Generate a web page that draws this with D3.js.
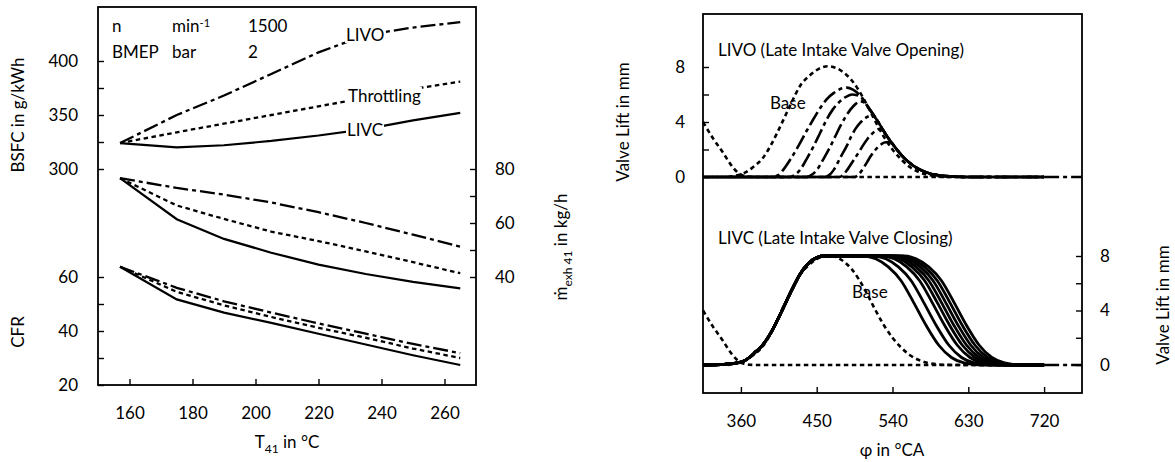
<!DOCTYPE html>
<html>
<head>
<meta charset="utf-8">
<script src="https://cdn.jsdelivr.net/npm/d3@7"></script>
<style>
body { margin: 0; background: #fff; }
text { font-family: Lato, "Open Sans", sans-serif; fill: #000; }
</style>
</head>
<body>
<svg id="chart" width="1175" height="462"></svg>
<script>
// ---- left panel data ----
var tempC = [157, 175, 190, 205, 220, 235, 250, 265];
var bsfcLIVO = [324, 350, 368, 388, 408, 424, 431, 436];
var bsfcThrottling = [324, 334, 342, 350, 358, 366, 374, 381];
var bsfcLIVC = [324, 320, 322, 326, 331, 337, 345, 352];
var mdotLIVO = [76.6, 73, 70.5, 67.6, 64, 60, 55.7, 51.2];
var mdotThrottling = [76.6, 66.5, 61.5, 56.8, 53.3, 49.5, 45.5, 41.4];
var mdotLIVC = [76.6, 61.4, 54.1, 49, 44.6, 41.1, 38.2, 35.8];
var cfrLIVO = [63.8, 56, 51, 46.8, 42.8, 39, 35.2, 31.8];
var cfrThrottling = [63.8, 54.5, 49.5, 45.2, 41.2, 37.5, 33.5, 30];
var cfrLIVC = [63.8, 51.7, 46.8, 43, 39, 35, 31, 27.4];

var tempTicks = [160, 180, 200, 220, 240, 260];
var bsfcTicks = [300, 325, 350, 375, 400];
var cfrTicks = [20, 30, 40, 50, 60];
var mdotTicks = [40, 50, 60, 70, 80];

// ---- right panel data: [crank angle, lift] ----
var exhaustLift = [[315,4.0],[327,2.8],[339,1.75],[348,0.9],[355,0.4],[362,0.12],[370,0.02],[378,0],[720,0]];
var baseLift = [[345,0],[352,0.08],[360,0.2],[366,0.35],[375,0.75],
  [385,1.3],[395,2.25],[403,3.2],[410,4.1],[420,5.4],[430,6.6],[442,7.4],[452,7.85],[463,8.05],
  [472,7.95],[482,7.6],[492,7.0],[500,6.3],[510,5.2],[520,4.0],[530,2.9],[540,2.0],[550,1.3],
  [560,0.75],[570,0.4],[580,0.18],[592,0.06],[605,0.01],[620,0],[720,0]];

var livoClosing = [[512,5.0],[522,4.1],[532,3.1],[542,2.25],[552,1.5],[562,0.95],[572,0.55],
  [582,0.3],[595,0.12],[610,0.04],[630,0],[720,0]];
var livoRise = [
  [[315,0],[395,0],[405,0.15],[410,0.5],[420,1.4],[430,2.45],[438,3.35],[446,4.2],[454,5.0],[462,5.67],[470,6.1],[478,6.4],[486,6.5],[493,6.35],[502,5.9]],
  [[315,0],[418,0],[425,0.2],[430,0.5],[438,1.3],[446,2.2],[454,3.2],[462,4.2],[469,4.9],[476,5.4],[484,5.8],[492,6.0],[498,5.95],[504,5.7]],
  [[315,0],[438,0],[445,0.2],[450,0.5],[458,1.3],[466,2.2],[472,2.95],[478,3.7],[484,4.35],[490,4.9],[496,5.3],[502,5.5],[507,5.4]],
  [[315,0],[460,0],[466,0.2],[470,0.5],[478,1.4],[486,2.3],[491,2.95],[496,3.5],[501,3.9],[506,4.2],[511,4.4],[515,4.45],[519,4.35]],
  [[315,0],[477,0],[482,0.2],[486,0.5],[493,1.15],[500,1.8],[505,2.3],[510,2.75],[515,3.1],[520,3.37],[525,3.5],[529,3.4]],
  [[315,0],[495,0],[500,0.2],[505,0.6],[510,1.1],[515,1.6],[520,2.0],[525,2.3],[530,2.5],[535,2.55],[540,2.42]]
];

var livcOpening = [[315,0],[340,0.05],[355,0.15],[362,0.25],[370,0.55],[378,1.0],[385,1.4],[395,2.3],
  [403,3.25],[410,4.15],[420,5.45],[430,6.65],[440,7.45],[450,7.88],[458,8.0],[465,8.0]];
var livcCloseLift = [8, 7.8, 7.2, 6.2, 4.6, 2.9, 1.45, 0.55, 0.15, 0];
var livcClosePhi = [
  [505,520,535,550,565,580,595,610,625,645],
  [517,532,547,562,577,592,607,622,637,657],
  [527,542,557,572,587,602,617,632,647,667],
  [533,548,563,578,593,608,623,638,653,673],
  [538,553,568,583,598,613,628,643,658,678],
  [543,558,573,588,603,618,633,648,663,683],
  [548,563,578,593,608,623,638,653,668,688],
  [553,568,583,598,613,628,643,658,673,693]
];
var zeroTail = [[720,0],[765,0]];

var phiTicks = [360, 450, 540, 630, 720];
var liftTicks = [0, 2, 4, 6, 8];

var dashes = { solid: null, dotted: "4.5,3.5", dashdot: "15,4,4,4" };

var svg = d3.select("#chart");
var fs = 17;

// ================= left panel =================
var xT = d3.scaleLinear().domain([150, 270]).range([98, 476]);
var yBsfc = d3.scaleLinear().domain([300, 400]).range([169, 61]);
var yCfr = d3.scaleLinear().domain([20, 60]).range([385, 277]);
var yMdot = d3.scaleLinear().domain([40, 80]).range([277, 169]);

function drawSeries(g, xs, ys, yScale, style, w) {
  var pts = xs.map(function(x, i) { return [x, ys[i]]; });
  g.append("path")
    .attr("d", d3.line().x(function(d) { return xT(d[0]); }).y(function(d) { return yScale(d[1]); })(pts))
    .attr("fill", "none").attr("stroke", "#000").attr("stroke-width", w)
    .attr("stroke-dasharray", dashes[style]);
}

var gL = svg.append("g");
drawSeries(gL, tempC, bsfcLIVO, yBsfc, "dashdot", 2.3);
drawSeries(gL, tempC, bsfcThrottling, yBsfc, "dotted", 2.3);
drawSeries(gL, tempC, bsfcLIVC, yBsfc, "solid", 2.2);
drawSeries(gL, tempC, mdotLIVO, yMdot, "dashdot", 2.3);
drawSeries(gL, tempC, mdotThrottling, yMdot, "dotted", 2.3);
drawSeries(gL, tempC, mdotLIVC, yMdot, "solid", 2.2);
drawSeries(gL, tempC, cfrLIVO, yCfr, "dashdot", 2.3);
drawSeries(gL, tempC, cfrThrottling, yCfr, "dotted", 2.3);
drawSeries(gL, tempC, cfrLIVC, yCfr, "solid", 2.2);

function styleAxis(g) {
  g.select(".domain").remove();
  g.selectAll(".tick line").attr("stroke", "#000").attr("stroke-width", 1.4);
  g.selectAll(".tick text").attr("font-size", fs).attr("font-family", "Lato, 'Open Sans', sans-serif");
}

svg.append("g").attr("transform", "translate(98,0)")
  .call(d3.axisLeft(yBsfc).tickValues(bsfcTicks).tickSize(-6).tickPadding(20)
    .tickFormat(function(d) { return d % 50 === 0 ? d : ""; }))
  .call(styleAxis);
svg.append("g").attr("transform", "translate(98,0)")
  .call(d3.axisLeft(yCfr).tickValues(cfrTicks).tickSize(-6).tickPadding(20)
    .tickFormat(function(d) { return d % 20 === 0 ? d : ""; }))
  .call(styleAxis);
svg.append("g").attr("transform", "translate(476,0)")
  .call(d3.axisRight(yMdot).tickValues(mdotTicks).tickSize(-6).tickPadding(19)
    .tickFormat(function(d) { return d % 20 === 0 ? d : ""; }))
  .call(styleAxis);
svg.append("g").attr("transform", "translate(0,385)")
  .call(d3.axisBottom(xT).tickValues(tempTicks).tickSize(-6).tickPadding(22))
  .call(styleAxis);

svg.append("rect").attr("x", 98).attr("y", 7).attr("width", 378).attr("height", 378)
  .attr("fill", "none").attr("stroke", "#000").attr("stroke-width", 1.8);

function label(x, y, txt, anchor) {
  var t = svg.append("text").attr("x", x).attr("y", y).attr("dy", "0.35em")
    .attr("font-size", fs).attr("text-anchor", anchor || "start").text(txt);
  return t;
}
function boxedLabel(x, y, txt) {
  var t = label(x, y, txt);
  var b = t.node().getBBox();
  svg.insert("rect", function() { return t.node(); })
    .attr("x", b.x - 1).attr("y", b.y + 2).attr("width", b.width + 2).attr("height", b.height - 4)
    .attr("fill", "#fff");
}
boxedLabel(346, 35, "LIVO");
boxedLabel(348, 96, "Throttling");
boxedLabel(347, 130, "LIVC");

label(112, 26, "n");
var mt = label(172, 26, "min");
mt.append("tspan").attr("dy", "-0.45em").attr("font-size", 11).text("-1");
label(248, 26, "1500");
label(112, 52, "BMEP");
label(172, 52, "bar");
label(248, 52, "2");

svg.append("text").attr("transform", "translate(18,115) rotate(-90)").attr("dy", "0.35em")
  .attr("text-anchor", "middle").attr("font-size", fs).text("BSFC in g/kWh");
svg.append("text").attr("transform", "translate(18,332) rotate(-90)").attr("dy", "0.35em")
  .attr("text-anchor", "middle").attr("font-size", fs).text("CFR");
var tt = svg.append("text").attr("x", 287).attr("y", 448).attr("text-anchor", "middle").attr("font-size", fs);
tt.append("tspan").text("T");
tt.append("tspan").attr("font-size", 12).attr("dy", 5).text("41");
tt.append("tspan").attr("dy", -5).text(" in °C");
var mtl = svg.append("text").attr("transform", "translate(567,247) rotate(-90)")
  .attr("text-anchor", "middle").attr("font-size", fs);
mtl.append("tspan").text("ṁ");
mtl.append("tspan").attr("font-size", 12).attr("dy", 5).text("exh 41");
mtl.append("tspan").attr("dy", -5).text(" in kg/h");

// ================= right panel =================
var xP = d3.scaleLinear().domain([315, 765]).range([703, 1082]);
var yUp = d3.scaleLinear().domain([0, 8]).range([177, 67]);
var yLo = d3.scaleLinear().domain([0, 8]).range([365, 256]);

function drawLift(pts, yScale, style, w, offset) {
  svg.append("path")
    .attr("d", d3.line().curve(d3.curveMonotoneX)
      .x(function(d) { return xP(d[0]); }).y(function(d) { return yScale(d[1]); })(pts))
    .attr("fill", "none").attr("stroke", "#000").attr("stroke-width", w)
    .attr("stroke-dasharray", dashes[style])
    .attr("stroke-dashoffset", offset || 0);
}

// upper: LIVO
drawLift(zeroTail, yUp, "dashdot", 2.6);
drawLift(exhaustLift, yUp, "dotted", 2.6);
drawLift(baseLift, yUp, "dotted", 2.6);
livoRise.forEach(function(r, i) {
  var last = r[r.length - 1][0];
  var pts = r.concat(livoClosing.filter(function(p) { return p[0] > last; }));
  drawLift(pts, yUp, "dashdot", 2.6, i * 4.5);
});

// lower: LIVC
drawLift(zeroTail, yLo, "dashdot", 2.6);
drawLift(exhaustLift, yLo, "dotted", 2.6);
drawLift(baseLift, yLo, "dotted", 2.6);
livcClosePhi.forEach(function(phis) {
  var pts = livcOpening.concat(phis.map(function(p, i) { return [p, livcCloseLift[i]]; }));
  pts.push([720, 0]);
  drawLift(pts, yLo, "solid", 2.8);
});

svg.append("g").attr("transform", "translate(703,0)")
  .call(d3.axisLeft(yUp).tickValues(liftTicks).tickSize(-6).tickPadding(18)
    .tickFormat(function(d) { return d % 4 === 0 ? d : ""; }))
  .call(styleAxis);
svg.append("g").attr("transform", "translate(1082,0)")
  .call(d3.axisRight(yLo).tickValues(liftTicks).tickSize(-6).tickPadding(18)
    .tickFormat(function(d) { return d % 4 === 0 ? d : ""; }))
  .call(styleAxis);
svg.append("g").attr("transform", "translate(0,393)")
  .call(d3.axisBottom(xP).tickValues(phiTicks).tickSize(-6).tickPadding(22))
  .call(styleAxis);

svg.append("rect").attr("x", 703).attr("y", 14).attr("width", 379).attr("height", 379)
  .attr("fill", "none").attr("stroke", "#000").attr("stroke-width", 1.8);

label(718, 50, "LIVO (Late Intake Valve Opening)");
label(718, 238, "LIVC (Late Intake Valve Closing)");
label(770, 103, "Base");
label(852, 292, "Base");

svg.append("text").attr("transform", "translate(623,122) rotate(-90)").attr("dy", "0.35em")
  .attr("text-anchor", "middle").attr("font-size", fs).text("Valve Lift in mm");
svg.append("text").attr("transform", "translate(1163,305) rotate(-90)").attr("dy", "0.35em")
  .attr("text-anchor", "middle").attr("font-size", fs).text("Valve Lift in mm");
svg.append("text").attr("x", 892).attr("y", 450).attr("dy", "0.35em")
  .attr("text-anchor", "middle").attr("font-size", fs).text("φ in °CA");
</script>
</body>
</html>
